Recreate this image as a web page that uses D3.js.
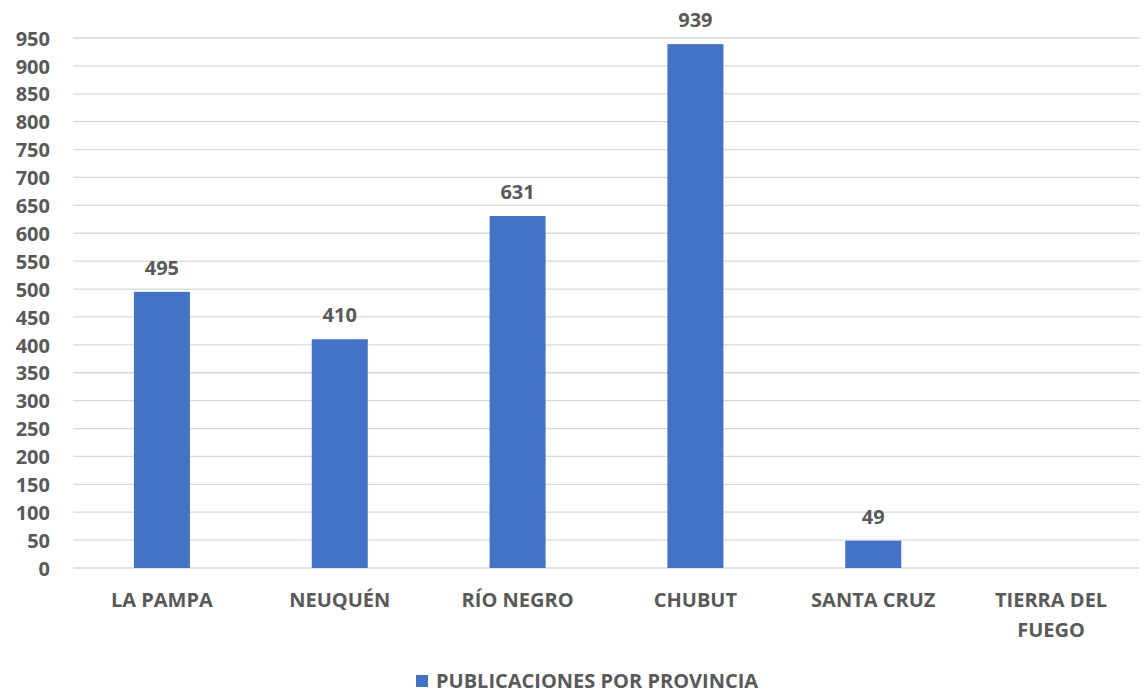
<!DOCTYPE html>
<html>
<head>
<meta charset="utf-8">
<script src="https://cdn.jsdelivr.net/npm/d3@7"></script>
<style>
  html, body { margin: 0; padding: 0; background: #ffffff; }
  svg { display: block; }
  text { font-family: "Open Sans", Lato, sans-serif; font-weight: bold; fill: #595959; }
</style>
</head>
<body>
<svg id="chart" width="1145" height="695"></svg>
<script>
// Publicaciones por provincia (Patagonia)
const provinces = ["LA PAMPA", "NEUQUÉN", "RÍO NEGRO", "CHUBUT", "SANTA CRUZ", "TIERRA DEL FUEGO"];
const publications = [495, 410, 631, 939, 49, null];
const yTicks = d3.range(0, 951, 50);
const seriesName = "PUBLICACIONES POR PROVINCIA";

const svg = d3.select("#chart");
const plot = { left: 73, right: 1140, top: 38, bottom: 568 };
const fontSize = 20;

const x = d3.scaleBand()
  .domain(provinces)
  .range([plot.left, plot.right])
  .paddingInner(0.685)
  .paddingOuter(0.3425);

const y = d3.scaleLinear()
  .domain([0, 950])
  .range([plot.bottom, plot.top]);

// horizontal gridlines
svg.append("g")
  .selectAll("line")
  .data(yTicks)
  .join("line")
  .attr("x1", plot.left)
  .attr("x2", plot.right)
  .attr("y1", d => y(d))
  .attr("y2", d => y(d))
  .attr("stroke", "#d9d9d9")
  .attr("stroke-width", 1.3);

// y axis labels
const yAxis = d3.axisLeft(y).tickValues(yTicks).tickSize(0).tickPadding(0);
const yg = svg.append("g")
  .attr("transform", `translate(${50},0)`)
  .call(yAxis);
yg.select(".domain").remove();
yg.selectAll("text")
  .attr("font-size", fontSize)
  .attr("font-family", "'Open Sans', sans-serif")
  .attr("font-weight", "bold")
  .attr("fill", "#595959")
  .attr("dy", "0.36em");

// bars
const rows = provinces.map((p, i) => ({ p, v: publications[i] })).filter(d => d.v != null);
svg.append("g")
  .selectAll("rect")
  .data(rows)
  .join("rect")
  .attr("x", d => x(d.p))
  .attr("width", x.bandwidth())
  .attr("y", d => y(d.v))
  .attr("height", d => y(0) - y(d.v))
  .attr("fill", "#4472c4");

// value labels
svg.append("g")
  .selectAll("text")
  .data(rows)
  .join("text")
  .attr("x", d => x(d.p) + x.bandwidth() / 2)
  .attr("y", d => y(d.v) - 24)
  .attr("dy", "0.36em")
  .attr("text-anchor", "middle")
  .attr("font-size", fontSize)
  .text(d => d.v);

// category labels (long names wrap onto a second line)
const catG = svg.append("g");
provinces.forEach(p => {
  const words = p.split(" ");
  const lines = p.length > 12 ? [words.slice(0, 2).join(" "), words.slice(2).join(" ")] : [p];
  const cx = x(p) + x.bandwidth() / 2;
  const t = catG.append("text")
    .attr("text-anchor", "middle")
    .attr("font-size", fontSize);
  lines.forEach((l, i) => {
    t.append("tspan")
      .attr("x", cx)
      .attr("y", 600 + i * 30)
      .attr("dy", "0.36em")
      .text(l);
  });
});

// legend
const lg = svg.append("g");
lg.append("rect")
  .attr("x", 416).attr("y", 675)
  .attr("width", 12).attr("height", 12)
  .attr("fill", "#4472c4");
lg.append("text")
  .attr("x", 436).attr("y", 681)
  .attr("dy", "0.36em")
  .attr("font-size", fontSize)
  .text(seriesName);
</script>
</body>
</html>
